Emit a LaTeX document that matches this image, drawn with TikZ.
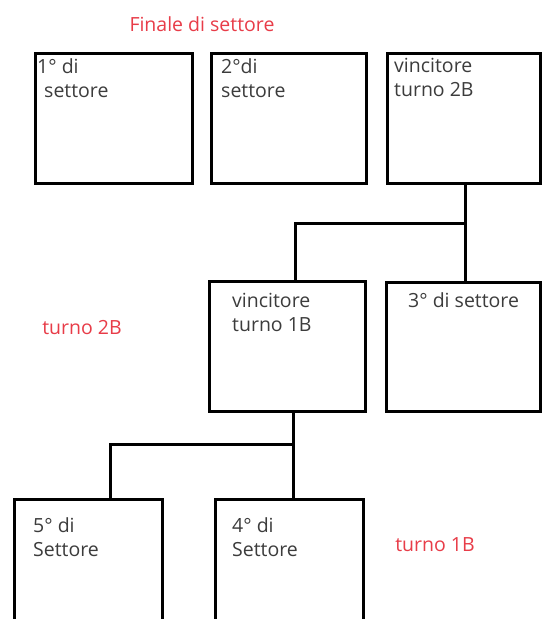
\documentclass[tikz,border=0pt]{standalone}
\usepackage{fontspec}
\setmainfont{Open Sans}
\definecolor{txtgray}{RGB}{60,60,60}
\definecolor{labred}{RGB}{232,60,72}
\tikzset{
  boxnode/.style={draw=black, line width=3pt, inner sep=0pt, outer sep=0pt, rectangle},
  boxtext/.style={anchor=north west, inner sep=0pt, align=left, text=txtgray,
    font=\fontsize{19.5pt}{24pt}\selectfont},
  redlabel/.style={inner sep=0pt, text=labred, font=\fontsize{19.5pt}{24pt}\selectfont},
  conn/.style={line width=3pt, draw=black}
}
\begin{document}
\begin{tikzpicture}[x=1pt,y=-1pt]
\useasboundingbox[fill=white] (0,0) rectangle (542,619);
% boxes
\node[boxnode, minimum width=157pt, minimum height=130pt] (b1) at (113.5,118) {};
\node[boxnode, minimum width=155pt, minimum height=130pt] (b2) at (288.5,118) {};
\node[boxnode, minimum width=153pt, minimum height=130pt] (b3) at (463.5,118) {};
\node[boxnode, minimum width=156pt, minimum height=130pt] (b1B) at (287,346) {};
\node[boxnode, minimum width=154pt, minimum height=129pt] (b3rd) at (463,346.5) {};
\node[boxnode, minimum width=148pt, minimum height=140pt] (b5) at (88,569) {};
\node[boxnode, minimum width=148pt, minimum height=140pt] (b4) at (289,569) {};
% texts
\node[boxtext] (t1) at (37,58) {1° di\\\hspace*{7pt}settore};
\node[boxtext] (t2) at (221,58) {2°di\\settore};
\node[boxtext] (t3) at (394,58) {vincitore\\turno 2B};
\node[boxtext] (t1B) at (232,293) {vincitore\\turno 1B};
\node[boxtext] (t3rd) at (408,292) {3° di settore};
\node[boxtext] (t5) at (33,517) {5° di\\Settore};
\node[boxtext] (t4) at (232,517) {4° di\\Settore};
% red labels
\node[redlabel] (lfin) at (202,24) {Finale di settore};
\node[redlabel] (l2B) at (82,328) {turno 2B};
\node[redlabel] (l1B) at (435,545) {turno 1B};
% connectors
\coordinate (j1) at (465,223);
\coordinate (j2) at (295,223);
\coordinate (j3) at (293,444);
\coordinate (j4) at (110,444);
\draw[conn] (b3.south -| j1) -- (b3rd.north -| j1);
\draw[conn] (j1) -- (j2) -- (b1B.north -| j2);
\draw[conn] (b1B.south -| j3) -- (b4.north -| j3);
\draw[conn] (j3) -- (j4) -- (b5.north -| j4);
\end{tikzpicture}
\end{document}
